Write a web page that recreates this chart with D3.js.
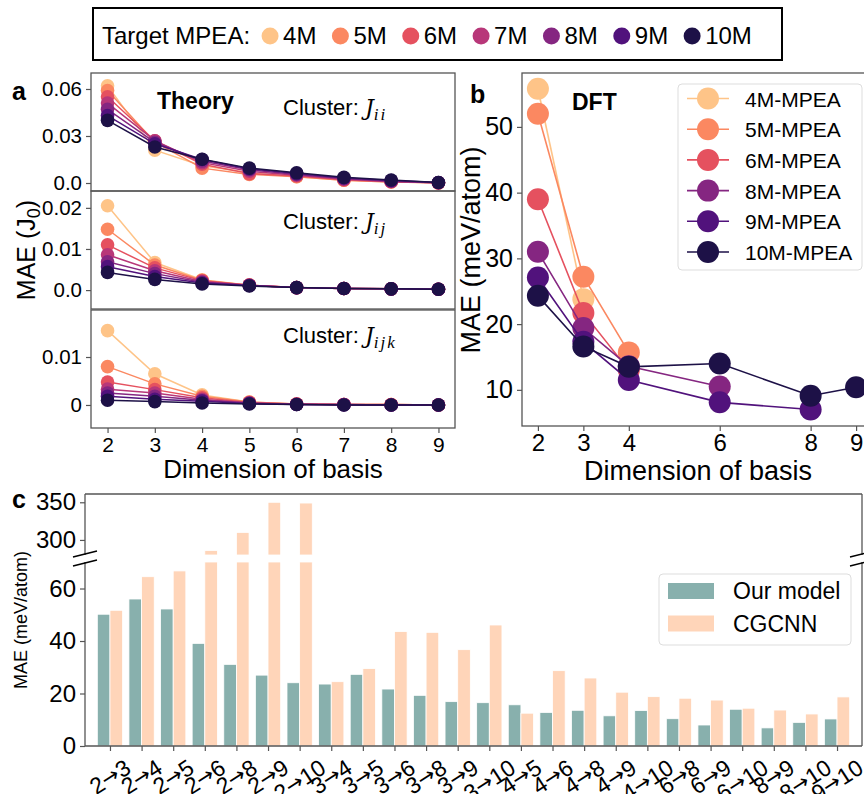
<!DOCTYPE html>
<html><head><meta charset="utf-8">
<script src="https://cdn.jsdelivr.net/npm/d3@7"></script>
<style>body{margin:0;background:#fff} svg{display:block;font-family:"Liberation Sans",Arial,sans-serif}</style>
</head><body>
<svg id="chart" width="864" height="794"></svg>
<script>
// ---------------- DATA ----------------
const targetLabels = ["4M","5M","6M","7M","8M","9M","10M"];
const basisDims = [2,3,4,5,6,7,8,9];
// panel a: MAE (J0) per target, over basis dimensions 2..9
const jiiMAE = [
  [0.062,0.021,0.011,0.0065,0.004,0.0018,0.0007,0.0001],
  [0.059,0.026,0.0095,0.0055,0.004,0.0018,0.0007,0.0001],
  [0.055,0.027,0.012,0.0060,0.0045,0.002,0.0008,0.0001],
  [0.051,0.027,0.013,0.0075,0.005,0.0024,0.001,0.0002],
  [0.047,0.026,0.014,0.0085,0.0055,0.0028,0.0012,0.0002],
  [0.043,0.025,0.015,0.009,0.006,0.0032,0.0016,0.0003],
  [0.040,0.023,0.0152,0.0095,0.0065,0.0036,0.0019,0.0003]
];
const jijMAE = [
  [0.0205,0.0067,0.0025,0.0012,0.0006,0.0004,0.0003,0.0002],
  [0.0148,0.0061,0.0024,0.0012,0.0006,0.0004,0.0003,0.0002],
  [0.0110,0.0054,0.0023,0.0012,0.0006,0.0004,0.0003,0.0002],
  [0.0086,0.0047,0.0021,0.0012,0.0006,0.0004,0.0003,0.0002],
  [0.0069,0.0040,0.0019,0.0011,0.0006,0.0004,0.0003,0.0002],
  [0.0057,0.0033,0.0017,0.0011,0.0006,0.0004,0.0003,0.0002],
  [0.0043,0.0026,0.0015,0.0010,0.0006,0.0004,0.0003,0.0002]
];
const jijkMAE = [
  [0.0155,0.0065,0.0021,0.0006,0.0002,0.0001,0.0001,0.0000],
  [0.0080,0.0044,0.0018,0.0006,0.0002,0.0001,0.0001,0.0000],
  [0.0048,0.0032,0.0015,0.0005,0.0002,0.0001,0.0001,0.0000],
  [0.0033,0.0025,0.0012,0.0004,0.0002,0.0001,0.0000,0.0000],
  [0.0025,0.0018,0.0010,0.0004,0.0001,0.0001,0.0000,0.0000],
  [0.0018,0.0012,0.0008,0.0003,0.0001,0.0000,0.0000,0.0000],
  [0.0010,0.0007,0.0004,0.0002,0.0001,0.0000,0.0000,0.0000]
];
const jiiTicks = [0,0.03,0.06], jiiTickLabels = ["0.0","0.03","0.06"];
const jijTicks = [0,0.01,0.02], jijTickLabels = ["0.0","0.01","0.02"];
const jijkTicks = [0,0.01],     jijkTickLabels = ["0","0.01"];

// panel b: DFT
const dftLabels = ["4M-MPEA","5M-MPEA","6M-MPEA","8M-MPEA","9M-MPEA","10M-MPEA"];
const dftTargetIndex = [0,1,2,4,5,6];
const dftDims = [[2,3],[2,3,4],[2,3,4],[2,3,4,6],[2,3,4,6,8],[2,3,4,6,8,9]];
const dftMAE = [
  [55.8,23.8],
  [52.0,27.2,15.7],
  [39.0,21.7,13.0],
  [31.0,19.4,13.6,10.5],
  [27.1,17.3,11.5,8.1,7.0],
  [24.3,16.6,13.5,14.0,9.1,10.4]
];
const dftXTicks = [2,3,4,6,8,9];
const dftYTicks = [10,20,30,40,50];

// panel c: transfer tasks
const transferFrom = [2,2,2,2,2,2,2,3,3,3,3,3,3,4,4,4,4,4,6,6,6,8,8,9];
const transferTo   = [3,4,5,6,8,9,10,4,5,6,8,9,10,5,6,8,9,10,8,9,10,9,10,10];
const ourModel = [50.2,56.0,52.2,39.1,31.1,27.0,24.1,23.6,27.3,21.7,19.3,16.9,16.5,15.7,12.8,13.6,11.5,13.5,10.4,8.0,14.0,6.9,9.0,10.3];
const cgcnn    = [51.7,64.5,66.7,286,310,350,349,24.5,29.5,43.6,43.3,36.7,46.1,12.5,28.7,25.9,20.5,18.8,18.2,17.5,14.4,13.7,12.2,18.7];
const lowerTicks = [0,20,40,60];
const upperTicks = [300,350];
const seriesNames = ["Our model","CGCNN"];

// ---------------- STYLE ----------------
const targetColors = ["#fec488","#fb8861","#e5515f","#b83779","#852681","#51127c","#1d1147"];
const barColors = ["#88b0ad","#ffd5b9"];
const spine = "#555";
const FONT = '"Liberation Sans", Arial, sans-serif';

const svg = d3.select("#chart");
svg.append("rect").attr("width",864).attr("height",794).attr("fill","#fff");

function styleAxis(g, fs){
  g.select(".domain").remove();
  g.selectAll(".tick line").attr("stroke",spine).attr("stroke-width",1.2);
  g.selectAll(".tick text").attr("font-size",fs).attr("fill","#000").attr("font-family",FONT);
}

// ---------------- TOP LEGEND ----------------
const topLeg = svg.append("g");
topLeg.append("rect").attr("x",93).attr("y",8).attr("width",689).attr("height",52)
  .attr("fill","none").attr("stroke","#000").attr("stroke-width",2);
const tl = topLeg.append("text").attr("x",102).attr("y",44).attr("font-size",24).text("Target MPEA:");
let cx = 102 + tl.node().getComputedTextLength() + 20;
targetLabels.forEach((lab,i)=>{
  topLeg.append("circle").attr("cx",cx).attr("cy",36).attr("r",8.5).attr("fill",targetColors[i]);
  const t = topLeg.append("text").attr("x",cx+13).attr("y",44).attr("font-size",24).text(lab);
  cx = cx + 13 + t.node().getComputedTextLength() + 24;
});

// ---------------- PANEL A ----------------
const xA = d3.scaleLinear().domain([1.65,9.35]).range([91,455]);
const subA = [
  {data:jiiMAE, dom:[-0.0051,0.0702], rng:[191,73], ticks:jiiTicks, labs:jiiTickLabels, sub:"ii", base:115},
  {data:jijMAE, dom:[-0.0046,0.0241], rng:[309,191], ticks:jijTicks, labs:jijTickLabels, sub:"ij", base:229},
  {data:jijkMAE, dom:[-0.0048,0.0198], rng:[428,310], ticks:jijkTicks, labs:jijkTickLabels, sub:"ijk", base:343}
];
subA.forEach((s,k)=>{
  const y = d3.scaleLinear().domain(s.dom).range(s.rng);
  const g = svg.append("g");
  const ya = g.append("g").attr("transform","translate(91,0)")
    .call(d3.axisLeft(y).tickValues(s.ticks).tickFormat((d,i)=>s.labs[i]).tickSize(5).tickPadding(4));
  styleAxis(ya, 20.5);
  const line = d3.line().x((d,i)=>xA(basisDims[i])).y(d=>y(d));
  s.data.forEach((ser,j)=>{
    g.append("path").attr("d",line(ser)).attr("fill","none").attr("stroke",targetColors[j]).attr("stroke-width",1.5);
    g.selectAll(null).data(ser).enter().append("circle")
      .attr("cx",(d,i)=>xA(basisDims[i])).attr("cy",d=>y(d)).attr("r",6.8).attr("fill",targetColors[j]);
  });
  g.append("rect").attr("x",91).attr("y",s.rng[1]).attr("width",364).attr("height",s.rng[0]-s.rng[1])
    .attr("fill","none").attr("stroke",spine).attr("stroke-width",1.3);
  const ct = g.append("text").attr("x",283).attr("y",s.base).attr("font-size",22);
  ct.append("tspan").text("Cluster: ");
  ct.append("tspan").attr("font-family","'DejaVu Serif','Liberation Serif',serif").attr("font-style","italic").attr("font-size",22).text("J");
  ct.append("tspan").attr("font-family","'Liberation Serif',serif").attr("font-style","italic").attr("font-size",17)
    .attr("letter-spacing",2).attr("dy",5).text(s.sub);
  if(k===2){
    const xa = g.append("g").attr("transform","translate(0,428)")
      .call(d3.axisBottom(xA).tickValues(basisDims).tickFormat(d3.format("d")).tickSize(5).tickPadding(4));
    styleAxis(xa, 21);
  }
});
svg.append("text").attr("x",12).attr("y",100).attr("font-size",25).attr("font-weight","bold").text("a");
svg.append("text").attr("x",157).attr("y",109).attr("font-size",23).attr("font-weight","bold").text("Theory");
const ylA = svg.append("text").attr("transform","translate(35,250) rotate(-90)").attr("text-anchor","middle").attr("font-size",25);
ylA.append("tspan").text("MAE (J");
ylA.append("tspan").attr("font-size",18).attr("dy",5).text("0");
ylA.append("tspan").attr("dy",-5).text(")");
svg.append("text").attr("x",273).attr("y",478).attr("text-anchor","middle").attr("font-size",26).text("Dimension of basis");

// ---------------- PANEL B ----------------
const xB = d3.scaleLinear().domain([1.65,9.35]).range([522,872]);
const yB = d3.scaleLinear().domain([4.5,58.2]).range([426,73]);
const gb = svg.append("g");
const ybAx = gb.append("g").attr("transform","translate(522,0)")
  .call(d3.axisLeft(yB).tickValues(dftYTicks).tickFormat(d3.format("d")).tickSize(5).tickPadding(4));
styleAxis(ybAx, 25);
const xbAx = gb.append("g").attr("transform","translate(0,426)")
  .call(d3.axisBottom(xB).tickValues(dftXTicks).tickFormat(d3.format("d")).tickSize(5).tickPadding(3));
styleAxis(xbAx, 24);
dftMAE.forEach((ser,j)=>{
  const c = targetColors[dftTargetIndex[j]];
  const line = d3.line().x((d,i)=>xB(dftDims[j][i])).y(d=>yB(d));
  gb.append("path").attr("d",line(ser)).attr("fill","none").attr("stroke",c).attr("stroke-width",1.6);
  gb.selectAll(null).data(ser).enter().append("circle")
    .attr("cx",(d,i)=>xB(dftDims[j][i])).attr("cy",d=>yB(d)).attr("r",11).attr("fill",c);
});
gb.append("rect").attr("x",522).attr("y",73).attr("width",352).attr("height",353)
  .attr("fill","none").attr("stroke",spine).attr("stroke-width",1.3);
// legend b
const lb = gb.append("g");
lb.append("rect").attr("x",678).attr("y",84).attr("width",184).attr("height",186).attr("rx",4)
  .attr("fill","#fff").attr("fill-opacity",0.85).attr("stroke","#ddd").attr("stroke-width",1);
dftLabels.forEach((lab,j)=>{
  const yy = 98.5 + j*30.7;
  const c = targetColors[dftTargetIndex[j]];
  lb.append("line").attr("x1",687).attr("x2",729).attr("y1",yy).attr("y2",yy).attr("stroke",c).attr("stroke-width",1.6);
  lb.append("circle").attr("cx",708).attr("cy",yy).attr("r",11).attr("fill",c);
  lb.append("text").attr("x",745).attr("y",yy+8).attr("font-size",21).text(lab);
});
svg.append("text").attr("x",470).attr("y",103).attr("font-size",25).attr("font-weight","bold").text("b");
svg.append("text").attr("x",572).attr("y",110).attr("font-size",23).attr("font-weight","bold").text("DFT");
svg.append("text").attr("transform","translate(480,250) rotate(-90)").attr("text-anchor","middle").attr("font-size",27).text("MAE (meV/atom)");
svg.append("text").attr("x",698).attr("y",480).attr("text-anchor","middle").attr("font-size",27).text("Dimension of basis");

// ---------------- PANEL C ----------------
const xC = d3.scaleLinear().domain([-0.79,23.79]).range([85,862]);
const yLow = d3.scaleLinear().domain([0,70.1]).range([746,562]);
const yUp = d3.scaleLinear().domain([280,361]).range([555,494]);
const bw = xC(0.4)-xC(0);
const gc = svg.append("g");
[ourModel, cgcnn].forEach((vals,s)=>{
  const off = s===0 ? -0.4 : 0;
  vals.forEach((v,i)=>{
    const x0 = xC(i+off);
    const vl = Math.min(v,70.1);
    gc.append("rect").attr("x",x0).attr("width",bw).attr("y",yLow(vl)).attr("height",yLow(0)-yLow(vl))
      .attr("fill",barColors[s]).attr("stroke","#fff").attr("stroke-width",0.8);
    if(v>280){
      gc.append("rect").attr("x",x0).attr("width",bw).attr("y",yUp(v)).attr("height",yUp(280)-yUp(v))
        .attr("fill",barColors[s]).attr("stroke","#fff").attr("stroke-width",0.8);
    }
  });
});
const ylowAx = gc.append("g").attr("transform","translate(85,0)")
  .call(d3.axisLeft(yLow).tickValues(lowerTicks).tickFormat(d3.format("d")).tickSize(5).tickPadding(4));
styleAxis(ylowAx, 24);
const yupAx = gc.append("g").attr("transform","translate(85,0)")
  .call(d3.axisLeft(yUp).tickValues(upperTicks).tickFormat(d3.format("d")).tickSize(5).tickPadding(4));
styleAxis(yupAx, 24);
const xcAx = gc.append("g").attr("transform","translate(0,746)")
  .call(d3.axisBottom(xC).tickValues(d3.range(transferFrom.length)).tickFormat("").tickSize(5));
styleAxis(xcAx, 22);
// rotated tick labels
transferFrom.forEach((f,i)=>{
  const t = gc.append("text").attr("font-size",23).attr("text-anchor","middle").attr("dominant-baseline","central");
  t.append("tspan").text(f);
  t.append("tspan").attr("font-family","'DejaVu Sans',sans-serif").attr("font-size",21).text("→");
  t.append("tspan").text(transferTo[i]);
  const L = t.node().getComputedTextLength();
  const a = 33*Math.PI/180;
  const h = L*Math.sin(a) + 17*Math.cos(a);
  t.attr("transform",`translate(${xC(i)},${758+h/2}) rotate(-33)`);
});
// spines
const sp = gc.append("g").attr("stroke",spine).attr("stroke-width",1.3).attr("fill","none");
sp.append("line").attr("x1",85).attr("x2",862).attr("y1",494).attr("y2",494);
sp.append("line").attr("x1",85).attr("x2",862).attr("y1",746).attr("y2",746);
[85,862].forEach(x=>{
  sp.append("line").attr("x1",x).attr("x2",x).attr("y1",494).attr("y2",555);
  sp.append("line").attr("x1",x).attr("x2",x).attr("y1",562).attr("y2",746);
  sp.append("line").attr("x1",x-12).attr("x2",x+12).attr("y1",557).attr("y2",551).attr("stroke","#000");
  sp.append("line").attr("x1",x-12).attr("x2",x+12).attr("y1",566).attr("y2",560).attr("stroke","#000");
});
// legend c
const lc = gc.append("g");
lc.append("rect").attr("x",659).attr("y",574).attr("width",192).attr("height",71).attr("rx",4)
  .attr("fill","#fff").attr("fill-opacity",0.85).attr("stroke","#ddd");
seriesNames.forEach((n,s)=>{
  const yy = 591 + s*32.5;
  lc.append("rect").attr("x",668).attr("y",yy-8).attr("width",46).attr("height",16).attr("fill",barColors[s]);
  lc.append("text").attr("x",733).attr("y",yy+8).attr("font-size",23).text(n);
});
svg.append("text").attr("x",12).attr("y",508).attr("font-size",25).attr("font-weight","bold").text("c");
svg.append("text").attr("transform","translate(27,620) rotate(-90)").attr("text-anchor","middle").attr("font-size",18).text("MAE (meV/atom)");
</script>
</body></html>
